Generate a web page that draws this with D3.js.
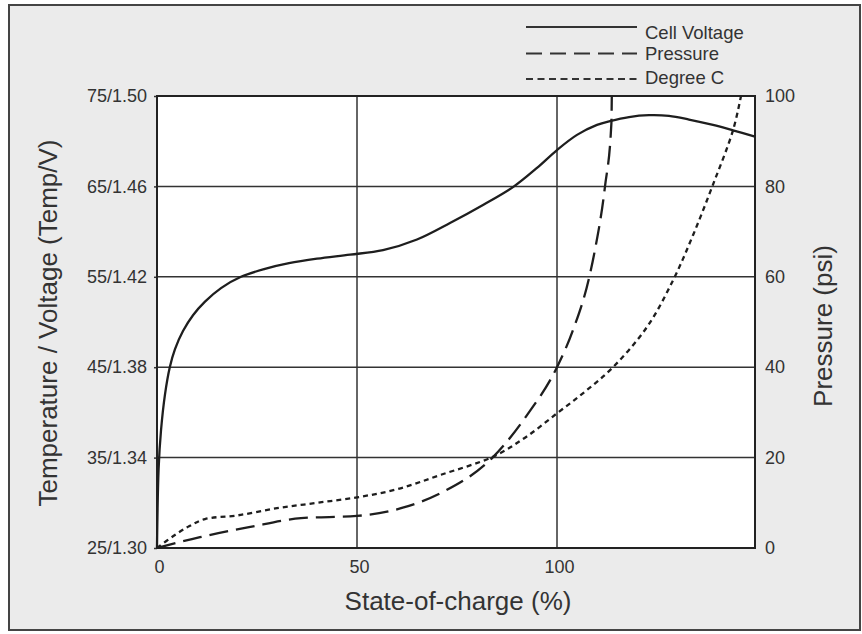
<!DOCTYPE html>
<html>
<head>
<meta charset="utf-8">
<script src="https://cdn.jsdelivr.net/npm/d3@7"></script>
<style>
  html, body { margin: 0; padding: 0; background: #fff; }
  svg { display: block; font-family: "Liberation Sans", Arial, Helvetica, sans-serif; }
</style>
</head>
<body>
<svg id="chart" width="862" height="634"></svg>
<script>
// State of charge (%) vs. cell voltage (V)
const voltageSoc = [0, 0.4, 1.0, 2.0, 3.2, 4.5, 6.5, 9, 12, 16, 21, 27, 33, 40, 48.25, 56.5, 65, 73.25, 81.5, 89, 95, 100, 105, 110, 113.25, 118, 123, 128, 133, 139, 144, 149.5];
const voltageVals = [1.300, 1.335, 1.352, 1.368, 1.380, 1.388, 1.396, 1.403, 1.409, 1.415, 1.420, 1.4235, 1.426, 1.428, 1.4298, 1.4318, 1.4365, 1.4438, 1.4518, 1.4597, 1.4682, 1.4761, 1.4828, 1.4872, 1.4889, 1.4907, 1.4915, 1.4912, 1.4896, 1.4872, 1.4848, 1.482];

// State of charge (%) vs. pressure (psi)
const pressureSoc = [0, 10.75, 23, 36, 50, 61, 71.5, 84, 92.5, 100, 104, 108, 109.5, 112, 113.6, 113.7];
const pressureVals = [0, 2.4, 4.6, 6.6, 7.1, 8.8, 12.4, 20.1, 29.4, 40, 48.2, 59.7, 66, 80, 94, 100];

// State of charge (%) vs. temperature (degree C)
const tempSoc = [0, 4, 8, 12, 20, 30, 40, 50, 60, 71, 84, 92, 100, 107, 114, 122.5, 129, 134, 139, 144, 146];
const tempVals = [25, 26.3, 27.4, 28.2, 28.6, 29.4, 30.0, 30.6, 31.5, 33.1, 35.1, 37.2, 39.9, 42.3, 45.0, 49.45, 54.6, 59.6, 65.2, 71.2, 75];

// Axis ticks
const xTicks = [0, 50, 100];
const leftTickTemps = [25, 35, 45, 55, 65, 75];
const leftTickLabels = ["25/1.30", "35/1.34", "45/1.38", "55/1.42", "65/1.46", "75/1.50"];
const rightTicks = [0, 20, 40, 60, 80, 100];

// Legend
const legendLabels = ["Cell Voltage", "Pressure", "Degree C"];

const svg = d3.select("#chart");
const W = 862, H = 634;
const m = { left: 157, right: 755, top: 96, bottom: 548 };
const ink = "#1e1e1e";
const textColor = "#333";

// Background panel with border
svg.append("rect").attr("x", 0).attr("y", 0).attr("width", W).attr("height", H).attr("fill", "#fff");
svg.append("rect").attr("x", 9).attr("y", 5).attr("width", 851).attr("height", 625)
  .attr("fill", "#ebebeb").attr("stroke", "#444").attr("stroke-width", 2);

const x = d3.scaleLinear().domain([0, 149.5]).range([m.left, m.right]);
const yTemp = d3.scaleLinear().domain([25, 75]).range([m.bottom, m.top]);
const yVolt = d3.scaleLinear().domain([1.30, 1.50]).range([m.bottom, m.top]);
const yPres = d3.scaleLinear().domain([0, 100]).range([m.bottom, m.top]);

// Plot area
svg.append("rect").attr("x", m.left).attr("y", m.top)
  .attr("width", m.right - m.left).attr("height", m.bottom - m.top)
  .attr("fill", "#fff");

// Grid lines
const grid = svg.append("g").attr("stroke", "#333").attr("stroke-width", 1.5);
grid.selectAll("line.h").data(leftTickTemps).join("line").attr("class", "h")
  .attr("x1", m.left).attr("x2", m.right)
  .attr("y1", d => yTemp(d)).attr("y2", d => yTemp(d));
grid.selectAll("line.v").data(xTicks).join("line").attr("class", "v")
  .attr("y1", m.top).attr("y2", m.bottom)
  .attr("x1", d => x(d)).attr("x2", d => x(d));

// Axes (labels only; grid provides the rules)
const xAxis = svg.append("g").attr("transform", `translate(0,${m.bottom})`)
  .call(d3.axisBottom(x).tickValues(xTicks).tickSize(0).tickPadding(12).tickFormat(d3.format("d")));
const leftAxis = svg.append("g").attr("transform", `translate(${m.left},0)`)
  .call(d3.axisLeft(yTemp).tickValues(leftTickTemps).tickSize(3).tickPadding(7)
    .tickFormat((d, i) => leftTickLabels[i]));
const rightAxis = svg.append("g").attr("transform", `translate(${m.right},0)`)
  .call(d3.axisRight(yPres).tickValues(rightTicks).tickSize(0).tickPadding(10).tickFormat(d3.format("d")));
[xAxis, leftAxis, rightAxis].forEach(g => {
  g.select(".domain").remove();
  g.selectAll("line").attr("stroke", "#333").attr("stroke-width", 1.5);
  g.selectAll("text").attr("font-size", 18).attr("fill", textColor)
    .attr("font-family", "'Liberation Sans', Arial, sans-serif");
});
xAxis.selectAll("text").attr("dx", 2);

// Plot border
svg.append("rect").attr("x", m.left).attr("y", m.top)
  .attr("width", m.right - m.left).attr("height", m.bottom - m.top)
  .attr("fill", "none").attr("stroke", "#222").attr("stroke-width", 2);

// Curves
svg.append("clipPath").attr("id", "plotclip").append("rect")
  .attr("x", m.left - 2).attr("y", m.top - 1).attr("width", m.right - m.left + 4).attr("height", m.bottom - m.top + 2);
const curves = svg.append("g").attr("clip-path", "url(#plotclip)")
  .attr("fill", "none").attr("stroke", ink).attr("stroke-width", 2.3);

const lineOf = (xs, ys, yScale, curve) => d3.line().curve(curve)
  .x((d, i) => x(xs[i])).y((d, i) => yScale(ys[i]))(xs);

curves.append("path").attr("d", lineOf(voltageSoc, voltageVals, yVolt, d3.curveCatmullRom.alpha(0.5)));
curves.append("path").attr("d", lineOf(pressureSoc, pressureVals, yPres, d3.curveMonotoneX))
  .attr("stroke-dasharray", "19,8");
curves.append("path").attr("d", lineOf(tempSoc, tempVals, yTemp, d3.curveCatmullRom.alpha(0.5)))
  .attr("stroke-dasharray", "5,4");

// Axis titles
svg.append("text").attr("x", 458).attr("y", 610).attr("text-anchor", "middle")
  .attr("font-size", 26).attr("fill", textColor).text("State-of-charge (%)");
svg.append("text").attr("transform", `translate(57,323) rotate(-90)`)
  .attr("text-anchor", "middle").attr("font-size", 26).attr("fill", textColor)
  .text("Temperature / Voltage (Temp/V)");
svg.append("text").attr("transform", `translate(832,326) rotate(-90)`)
  .attr("text-anchor", "middle").attr("font-size", 26).attr("fill", textColor)
  .text("Pressure (psi)");

// Legend
const dashes = [null, "16,8", "7,4.5"];
const legendLineY = [27, 53.5, 79];
const legendTextY = [38.5, 59.5, 83.5];
const leg = svg.append("g");
legendLabels.forEach((lab, i) => {
  leg.append("line").attr("x1", 526).attr("x2", 637)
    .attr("y1", legendLineY[i]).attr("y2", legendLineY[i])
    .attr("stroke", "#333").attr("stroke-width", 2.2)
    .attr("stroke-dasharray", dashes[i]);
  leg.append("text").attr("x", 645).attr("y", legendTextY[i]).attr("font-size", 18.5)
    .attr("fill", textColor).text(lab);
});
</script>
</body>
</html>
